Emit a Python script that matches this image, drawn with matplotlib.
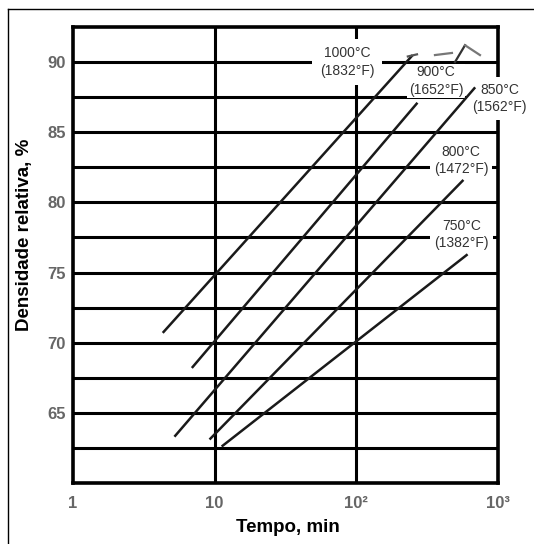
import matplotlib
matplotlib.use('Agg')
import matplotlib.pyplot as plt
from matplotlib.lines import Line2D

plt.rcParams['font.family'] = ['Liberation Sans', 'DejaVu Sans']

# sintering curves (log time vs relative density)
temps_c = ['1000°C', '900°C', '850°C', '800°C', '750°C']
temps_f = ['(1832°F)', '(1652°F)', '(1562°F)', '(1472°F)', '(1382°F)']
t_start = [4.3, 6.9, 5.2, 9.2, 11.2]
d_start = [70.7, 68.2, 63.3, 63.1, 62.6]
t_end = [250, 270, 690, 570, 610]
d_end = [90.5, 87.1, 88.2, 81.6, 76.3]

# where each label sits (time, density)
lab_t = [86, 365, 1025, 548, 553]
lab_d = [90.0, 88.65, 87.4, 83.0, 77.7]
lab_pad = [0.55, 0.12, 0.4, 0.3, 0.3]

# faint leveling-off marks at the top of the 1000°C curve
top_t = [[231, 268], [359, 473], [497, 585], [585, 746]]
top_d = [[90.4, 90.55], [90.5, 90.65], [90.0, 91.2], [91.2, 90.5]]
top_c = ['#555555', '#777777', '#333333', '#777777']

x_ticks = [1, 10, 100, 1000]
x_labels = ['1', '10', '10²', '10³']
y_ticks = [65, 70, 75, 80, 85, 90]
y_grid = [62.5, 65, 67.5, 70, 72.5, 75, 77.5, 80, 82.5, 85, 87.5, 90]

fig = plt.figure(figsize=(5.34, 5.44), dpi=100)
ax = fig.add_axes([73/534, 1-483/544, 425/534, 456/544])
ax.set_xscale('log')
ax.set_xlim(1, 1000)
ax.set_ylim(60, 92.5)

for g in y_grid:
    ax.axhline(g, color='black', lw=2.2, zorder=1)
for g in [10, 100]:
    ax.axvline(g, color='black', lw=2.2, zorder=1)

for i in range(len(temps_c)):
    ax.plot([t_start[i], t_end[i]], [d_start[i], d_end[i]], color='#1a1a1a',
            lw=1.8, zorder=6, solid_capstyle='butt')
    ax.text(lab_t[i], lab_d[i], temps_c[i] + '\n' + temps_f[i], ha='center', va='center',
            fontsize=10, color='#333333', linespacing=1.3, zorder=5,
            bbox=dict(boxstyle='square,pad=%g' % lab_pad[i], fc='white', ec='none'))

for ts, ds, c in zip(top_t, top_d, top_c):
    ax.plot(ts, ds, color=c, lw=1.6, zorder=6)

ax.set_xticks(x_ticks)
ax.set_xticklabels(x_labels)
ax.xaxis.set_minor_locator(matplotlib.ticker.NullLocator())
ax.set_yticks(y_ticks)
ax.tick_params(length=0, labelsize=12, labelcolor='#666666')
ax.tick_params(axis='x', pad=9)
ax.tick_params(axis='y', pad=5)
for lab in ax.get_xticklabels() + ax.get_yticklabels():
    lab.set_fontweight('bold')

for s in ax.spines.values():
    s.set_linewidth(2.6)
    s.set_zorder(2)

fig.text(288/534, 1-527/544, 'Tempo, min', ha='center', va='center',
         fontsize=13.5, fontweight='bold')
fig.text(25/534, 1-235/544, 'Densidade relativa, %', ha='center', va='center',
         rotation=90, fontsize=13.5, fontweight='bold')

# outer border of the scanned figure
fig.add_artist(Line2D([8/534, 8/534], [0, 1-9/544], color='black', lw=1.0))
fig.add_artist(Line2D([8/534, 1], [1-9/544, 1-9/544], color='black', lw=1.0))

fig.savefig('out.png', dpi=100)
